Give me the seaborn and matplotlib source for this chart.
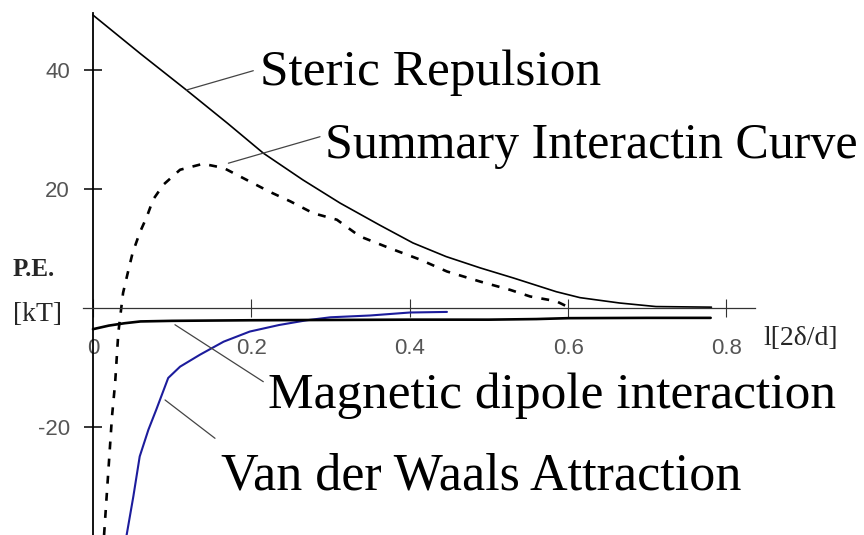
import matplotlib
matplotlib.use("Agg")
import matplotlib.pyplot as plt
import seaborn as sns

# Separation l in units of 2δ/d, potential energy in kT
steric_x = [0.0, 0.06, 0.118, 0.17, 0.215, 0.265, 0.312, 0.362, 0.404, 0.446,
            0.489, 0.531, 0.585, 0.615, 0.665, 0.711, 0.781]
steric_y = [49.2, 42.7, 36.6, 31.0, 26.0, 21.5, 17.6, 13.9, 10.9, 8.6,
            6.7, 5.0, 2.7, 1.7, 0.8, 0.2, 0.1]

summary_x = [0.014, 0.024, 0.028, 0.032, 0.038, 0.044, 0.05, 0.059, 0.068, 0.076,
             0.089, 0.11, 0.139, 0.165, 0.194, 0.223, 0.249, 0.278, 0.308, 0.337,
             0.375, 0.413, 0.447, 0.489, 0.527, 0.552, 0.585, 0.602]
summary_y = [-38.2, -18.3, -12.6, -4.2, 2.5, 5.9, 9.2, 12.6, 15.3, 18.2,
             20.7, 23.2, 24.2, 23.5, 21.5, 19.5, 17.9, 15.9, 14.8, 12.0,
             10.0, 8.1, 6.1, 4.4, 3.0, 1.9, 1.1, 0.0]

vdw_x = [0.0425, 0.051, 0.059, 0.07, 0.08, 0.095, 0.11, 0.135, 0.165, 0.198,
         0.235, 0.27, 0.3, 0.35, 0.4, 0.447]
vdw_y = [-38.2, -31.7, -25.0, -20.5, -17.1, -11.8, -9.9, -7.9, -5.7, -4.0,
         -2.9, -2.1, -1.6, -1.3, -0.8, -0.7]

dipole_x = [0.0, 0.02, 0.04, 0.06, 0.1, 0.2, 0.3, 0.4, 0.5, 0.56, 0.6, 0.7, 0.78]
dipole_y = [-3.6, -3.0, -2.6, -2.3, -2.2, -2.1, -2.05, -2.0, -2.0, -1.9, -1.75, -1.7, -1.7]

x_ticks = [0, 0.2, 0.4, 0.6, 0.8]
x_ticklabels = ["0", "0.2", "0.4", "0.6", "0.8"]
y_ticks = [-20, 20, 40]
y_ticklabels = ["-20", "20", "40"]

sns.set_style("white")
plt.rcParams["font.family"] = ["Liberation Serif", "DejaVu Serif"]

W, H = 864, 535
fig = plt.figure(figsize=(W / 100, H / 100), dpi=100)
ax = fig.add_axes([83 / W, 0, 672 / W, 522.3 / H])
ax.set_xlim(-0.0126, 0.836)
ax.set_ylim(-38.2, 49.6)

sns.lineplot(x=steric_x, y=steric_y, ax=ax, color="black", linewidth=1.2)
sns.lineplot(x=summary_x, y=summary_y, ax=ax, color="black", linewidth=1.9,
             linestyle=(0, (3.0, 3.5)))
sns.lineplot(x=vdw_x, y=vdw_y, ax=ax, color="#1c1c9c", linewidth=1.5)
sns.lineplot(x=dipole_x, y=dipole_y, ax=ax, color="black", linewidth=1.9)

# Axes crossing at the origin
for side in ("top", "right"):
    ax.spines[side].set_visible(False)
ax.spines["left"].set_position(("data", 0))
ax.spines["bottom"].set_position(("data", 0))
ax.spines["left"].set_linewidth(1.3)
ax.spines["left"].set_color("black")
ax.spines["bottom"].set_linewidth(0.9)
ax.spines["bottom"].set_color("#333333")

ax.set_xticks(x_ticks)
ax.set_xticklabels(x_ticklabels)
ax.set_yticks(y_ticks)
ax.set_yticklabels(y_ticklabels)
ax.tick_params(axis="y", which="major", left=True, direction="inout", length=13,
               width=1.1, color="black", pad=10, labelsize=16, labelcolor="#555555")
ax.tick_params(axis="x", which="major", bottom=True, direction="inout", length=13,
               width=0.8, color="#333333", pad=15, labelsize=16, labelcolor="#555555")
for lbl in ax.get_xticklabels() + ax.get_yticklabels():
    lbl.set_family(["Liberation Sans", "DejaVu Sans"])
ax.set_xlabel("")
ax.set_ylabel("")
ax.grid(False)


def fig_xy(px, py):
    return px / W, (H - py) / H


# Axis captions
fig.text(*fig_xy(13, 276), "P.E.", fontsize=18, fontweight="bold", va="baseline")
fig.text(*fig_xy(13, 321), "[kT]", fontsize=20, va="baseline")
fig.text(*fig_xy(763, 345), "l[2δ/d]", fontsize=20, va="baseline")

# Curve names with leader lines
curve_labels = [
    ("Steric Repulsion", 37, (260, 85), (0.118, 36.6), (253.3, 70.7)),
    ("Summary Interactin Curve", 36, (325, 158), (0.171, 24.3), (320, 136.7)),
    ("Magnetic dipole interaction", 37, (268, 408), (0.1035, -2.85), (263.3, 381.7)),
    ("Van der Waals Attraction", 37.5, (221, 490), (0.091, -15.5), (215, 438.3)),
]
for text, size, (tx, ty), xy, (lx, ly) in curve_labels:
    fig.text(*fig_xy(tx, ty), text, fontsize=size, va="baseline", color="black")
    ax.annotate("", xy=xy, xycoords="data",
                xytext=fig_xy(lx, ly), textcoords="figure fraction",
                arrowprops=dict(arrowstyle="-", color="#444444", lw=0.9,
                                shrinkA=0, shrinkB=0))

fig.savefig("out.png", dpi=100)
